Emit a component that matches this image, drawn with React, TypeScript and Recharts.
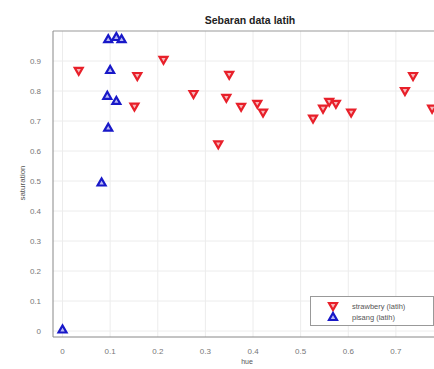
import React from 'react';
import { ScatterChart, Scatter, XAxis, YAxis, CartesianGrid, ReferenceLine } from 'recharts';

const strawberryHue = [0.034, 0.157, 0.151, 0.212, 0.275, 0.327, 0.344, 0.35, 0.375, 0.409, 0.421, 0.526, 0.547, 0.56, 0.574, 0.606, 0.719, 0.736, 0.776];
const strawberrySat = [0.867, 0.85, 0.748, 0.904, 0.79, 0.622, 0.777, 0.854, 0.747, 0.757, 0.728, 0.708, 0.741, 0.764, 0.757, 0.728, 0.8, 0.85, 0.741];
const pisangHue = [0.096, 0.113, 0.124, 0.1, 0.094, 0.113, 0.096, 0.082, 0.0];
const pisangSat = [0.973, 0.98, 0.973, 0.87, 0.784, 0.767, 0.678, 0.495, 0.005];
const xTicks = [0, 0.1, 0.2, 0.3, 0.4, 0.5, 0.6, 0.7];
const yTicks = [0, 0.1, 0.2, 0.3, 0.4, 0.5, 0.6, 0.7, 0.8, 0.9];
const seriesNames = ['strawbery (latih)', 'pisang (latih)'];
const title = 'Sebaran data latih';
const xLabel = 'hue';
const yLabel = 'saturation';

const strawberry = strawberryHue.map((x, i) => ({ x, y: strawberrySat[i] }));
const pisang = pisangHue.map((x, i) => ({ x, y: pisangSat[i] }));

const RED = '#e8202a';
const BLUE = '#1818c8';

const DownTri = (props: any) => {
  const { cx, cy } = props;
  if (cx == null || cy == null) return null;
  return (
    <path
      d={`M${cx - 4},${cy - 3} L${cx + 4},${cy - 3} L${cx},${cy + 4} Z`}
      fill="#f6b8bb"
      stroke={RED}
      strokeWidth={2.2}
      strokeLinejoin="miter"
    />
  );
};

const UpTri = (props: any) => {
  const { cx, cy } = props;
  if (cx == null || cy == null) return null;
  return (
    <path
      d={`M${cx - 4},${cy + 3} L${cx + 4},${cy + 3} L${cx},${cy - 4} Z`}
      fill="#b8b8f4"
      stroke={BLUE}
      strokeWidth={2.2}
      strokeLinejoin="miter"
    />
  );
};

const tickStyle = { fontSize: 8, fill: '#777', fontFamily: 'Liberation Sans, Arial, sans-serif' };

export default function App() {
  return (
    <div style={{ position: 'absolute', left: 0, top: 0, width: 434, height: 369, background: '#fff', overflow: 'hidden', fontFamily: 'Liberation Sans, Arial, sans-serif' }}>
      <ScatterChart width={434} height={369} margin={{ top: 31, right: 0, bottom: 0, left: 0 }}>
        <CartesianGrid stroke="#ececec" horizontalValues={yTicks} verticalValues={xTicks} />
        <XAxis
          type="number"
          dataKey="x"
          domain={[-0.02, 0.78]}
          ticks={xTicks}
          allowDataOverflow
          height={32}
          tick={tickStyle}
          tickLine={false}
          tickMargin={5}
          axisLine={{ stroke: '#888' }}
        />
        <YAxis
          type="number"
          dataKey="y"
          domain={[-0.02, 1.0]}
          ticks={yTicks}
          allowDataOverflow
          width={53}
          tick={tickStyle}
          tickLine={false}
          tickMargin={6}
          axisLine={{ stroke: '#888' }}
        />
        <ReferenceLine y={1.0} stroke="#999" />
        <Scatter name={seriesNames[0]} data={strawberry} shape={DownTri} isAnimationActive={false} />
        <Scatter name={seriesNames[1]} data={pisang} shape={UpTri} isAnimationActive={false} />
      </ScatterChart>
      <div style={{ position: 'absolute', left: 0, width: 500, top: 13, textAlign: 'center', fontSize: 10.5, fontWeight: 'bold', color: '#222', lineHeight: '14px' }}>
        {title}
      </div>
      <div style={{ position: 'absolute', left: 0, width: 494, top: 357, textAlign: 'center', fontSize: 7, color: '#555', lineHeight: '9px' }}>
        {xLabel}
      </div>
      <div style={{ position: 'absolute', left: 23, top: 183, width: 0, height: 0 }}>
        <div style={{ position: 'absolute', left: -40, top: -5, width: 80, textAlign: 'center', transform: 'rotate(-90deg)', fontSize: 8, color: '#555', lineHeight: '10px' }}>
          {yLabel}
        </div>
      </div>
      <div style={{ position: 'absolute', left: 310, top: 296, width: 124, height: 30, border: '1px solid #999', background: '#fff', boxSizing: 'border-box' }}>
        <svg width={124} height={30} style={{ position: 'absolute', left: 0, top: 0 }}>
          <DownTri cx={22} cy={9} />
          <UpTri cx={22} cy={20} />
          <text x={41} y={12} fontSize={7.5} fill="#555">{seriesNames[0]}</text>
          <text x={41} y={23} fontSize={7.5} fill="#555">{seriesNames[1]}</text>
        </svg>
      </div>
    </div>
  );
}
